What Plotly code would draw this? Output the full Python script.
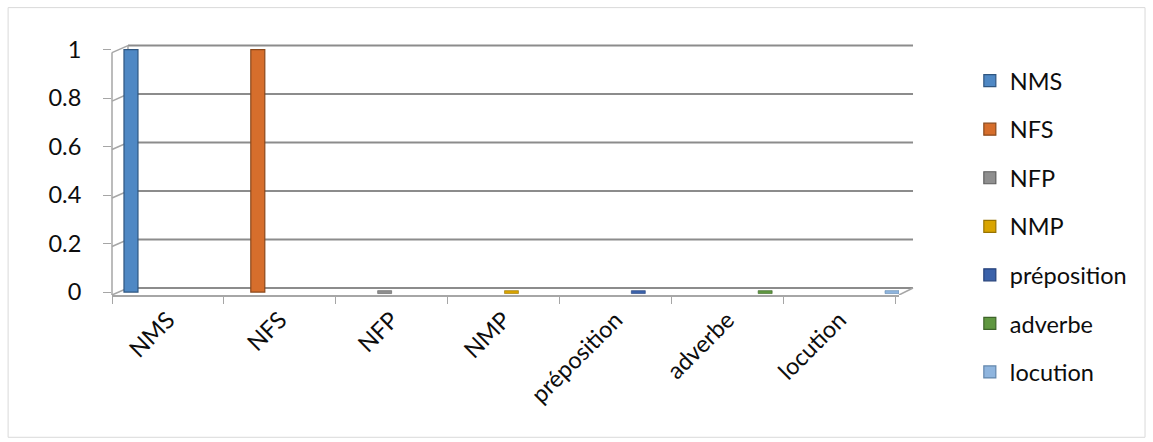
import plotly.graph_objects as go

categories = ["NMS", "NFS", "NFP", "NMP", "préposition", "adverbe", "locution"]
series_names = ["NMS", "NFS", "NFP", "NMP", "préposition", "adverbe", "locution"]
series_values = [
    [1, None, None, None, None, None, None],
    [None, 1, None, None, None, None, None],
    [None, None, 0, None, None, None, None],
    [None, None, None, 0, None, None, None],
    [None, None, None, None, 0, None, None],
    [None, None, None, None, None, 0, None],
    [None, None, None, None, None, None, 0],
]
series_colors = ["#4f88c4", "#d66e2c", "#8f8f8f", "#d9a400", "#3b62aa", "#5f9740", "#8fb5de"]
edge_colors = ["#2f5680", "#8a481b", "#5e5e5e", "#987300", "#24407a", "#3d6429", "#6286ac"]
y_ticks = [0, 0.2, 0.4, 0.6, 0.8, 1]
y_tick_text = ["0", "0.2", "0.4", "0.6", "0.8", "1"]

# column geometry inside each category slot (category units)
BAR_W = 0.125
FIRST_OFFSET = -0.393
STEP = 0.1333
SLAB = 0.012      # thickness of the floor slab drawn for zero-valued columns
DEPTH_X = 0.0203  # back-wall shift, paper units
DEPTH_Y = 0.017   # back-wall lift, data units

fig = go.Figure()
for i, (name, vals, col, edge) in enumerate(zip(series_names, series_values, series_colors, edge_colors)):
    off = FIRST_OFFSET + i * STEP
    fig.add_trace(go.Bar(
        name=name, x=categories, y=[v if v else None for v in vals],
        offset=off, width=BAR_W, legendgroup=name,
        marker=dict(color=col, line=dict(color=edge, width=1.2)),
    ))
    fig.add_trace(go.Bar(
        name=name, x=categories,
        y=[SLAB if v == 0 else None for v in vals],
        base=[-SLAB / 2 if v == 0 else None for v in vals],
        offset=off, width=BAR_W, legendgroup=name, showlegend=False,
        marker=dict(color=col, line=dict(color=edge, width=0.6)),
        hoverinfo="skip",
    ))

GRID = "#8c8c8c"
WALL = "#a6a6a6"
shapes = []
# back-wall gridlines
for t in y_ticks:
    shapes.append(dict(type="line", xref="paper", yref="y",
                       x0=DEPTH_X, x1=1.0178, y0=t + DEPTH_Y, y1=t + DEPTH_Y,
                       line=dict(color=GRID, width=2), layer="below"))
    # side-wall connector from front tick to back wall
    shapes.append(dict(type="line", xref="paper", yref="y",
                       x0=0, x1=DEPTH_X, y0=t - 0.012, y1=t + DEPTH_Y,
                       line=dict(color=WALL, width=1.5), layer="below"))
# back edge of the side wall
shapes.append(dict(type="line", xref="paper", yref="y",
                   x0=DEPTH_X, x1=DEPTH_X, y0=DEPTH_Y, y1=1 + DEPTH_Y,
                   line=dict(color=WALL, width=1.5), layer="below"))
# front vertical axis line
shapes.append(dict(type="line", xref="paper", yref="y",
                   x0=0, x1=0, y0=-0.012, y1=0.988,
                   line=dict(color=WALL, width=1.5), layer="below"))
# right edge of the floor
shapes.append(dict(type="line", xref="paper", yref="y",
                   x0=1, x1=1.0178, y0=-0.012, y1=DEPTH_Y,
                   line=dict(color=WALL, width=1.5), layer="below"))
# chart frame
shapes.append(dict(type="rect", xref="paper", yref="paper",
                   x0=-0.132, x1=1.3126, y0=-0.558, y1=1.127,
                   line=dict(color="#d9d9d9", width=1), fillcolor="rgba(0,0,0,0)", layer="below"))

FONT = "Lato"
FS = 23.5
TXT = "#0d0d0d"
fig.update_layout(
    width=1153, height=442,
    margin=dict(l=112, r=254, t=40.3, b=147.1),
    paper_bgcolor="white", plot_bgcolor="white",
    barmode="overlay",
    font=dict(family=FONT, size=FS, color=TXT),
    showlegend=True,
    legend=dict(
        x=1.09, y=0.926, xanchor="left", yanchor="top",
        font=dict(family=FONT, size=FS, color=TXT),
        tracegroupgap=15, itemwidth=30, maxheight=1000,
    ),
    xaxis=dict(
        type="category", tickangle=-45, showgrid=False,
        showline=True, linecolor=WALL, linewidth=2,
        ticks="outside", tickson="boundaries", ticklen=7, tickcolor=WALL,
        tickfont=dict(family=FONT, size=FS, color=TXT),
    ),
    yaxis=dict(
        range=[-0.012, 1.04], tickvals=y_ticks, ticktext=y_tick_text,
        showgrid=False, zeroline=False, showline=False,
        ticks="outside", ticklen=8, tickcolor=WALL,
        ticklabelstandoff=17,
        tickfont=dict(family=FONT, size=FS, color=TXT),
    ),
    shapes=shapes,
)

fig.write_html("out.html")
